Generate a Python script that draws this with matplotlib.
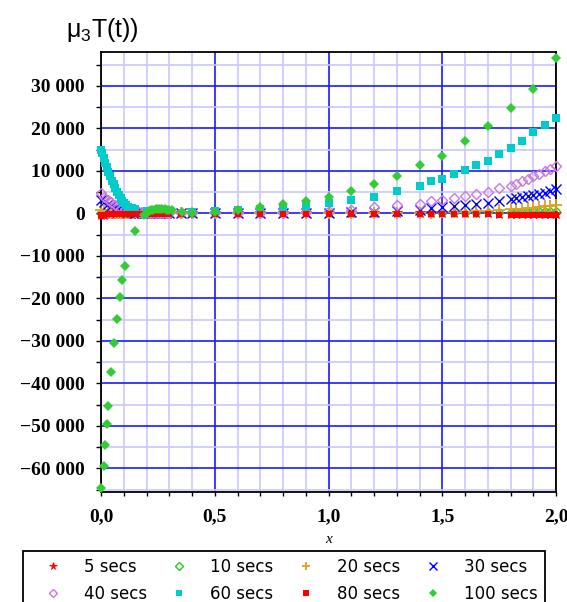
import matplotlib
matplotlib.use("Agg")
import matplotlib.pyplot as plt
from matplotlib.ticker import MultipleLocator, FuncFormatter

# ---------------- data ----------------
labels = ["5 secs", "10 secs", "20 secs", "30 secs", "40 secs", "60 secs", "80 secs", "100 secs"]

x_common = [0, 0.015, 0.03, 0.045, 0.06, 0.075, 0.09, 0.105, 0.12, 0.135, 0.15, 0.165, 0.18, 0.195,
            0.21, 0.225, 0.24, 0.255, 0.27, 0.285, 0.3,
            0.35, 0.4, 0.5, 0.6, 0.7, 0.8, 0.9, 1.0, 1.1, 1.2, 1.3,
            1.4, 1.45, 1.5, 1.55, 1.6, 1.65, 1.7, 1.75, 1.8, 1.825, 1.85, 1.875, 1.9, 1.925, 1.95, 1.975, 2.0]

y_5 = [-400, -300, -250, -200, -150, -120, -100, -80, -60, -50, -40, -30, -30, -20, -20, -20, -10, -10, -10, -10, -10,
       -10, -10, -10, -10, -10, -10, -10, -10, -10, -10, -10,
       -10, -10, -20, -20, -20, -30, -30, -40, -40, -50, -50, -60, -60, -70, -80, -90, -100]
y_10 = [300, 250, 200, 160, 130, 100, 80, 60, 50, 40, 30, 20, 20, 10, 10, 10, 0, 0, 0, 0, 0,
        0, 0, 0, 0, 0, 0, 0, 10, 20, 30, 40,
        60, 80, 100, 120, 150, 180, 220, 260, 300, 330, 360, 400, 440, 480, 530, 580, 640]
y_20 = [800, 600, 450, 330, 240, 170, 120, 90, 60, 40, 30, 20, 10, 10, 0, 0, 0, 0, 0, 0, 0,
        0, 0, 0, 0, 0, 0, 0, 20, 40, 60, 80,
        100, 150, 220, 300, 400, 500, 620, 760, 920, 1010, 1110, 1220, 1340, 1480, 1640, 1820, 2050]
y_30 = [3200, 2600, 2100, 1700, 1300, 1000, 750, 550, 380, 250, 160, 100, 60, 30, 20, 10, 0, 0, 0, 0, 0,
        0, 0, 10, 20, 40, 70, 110, 170, 260, 400, 600,
        900, 1150, 1400, 1650, 1950, 2250, 2550, 2900, 3300, 3500, 3750, 4000, 4300, 4600, 4900, 5300, 5700]
y_40 = [4800, 3900, 3200, 2600, 2050, 1600, 1250, 950, 700, 500, 350, 250, 160, 100, 60, 30, 20, 10, 0, 0, 0,
        0, 0, 20, 60, 120, 200, 330, 550, 900, 1500, 2000,
        2300, 2800, 3100, 3700, 4200, 4600, 5100, 5900, 6500, 7000, 7500, 8100, 8700, 9300, 9900, 10500, 11100]
y_80 = [-300, -280, -260, -240, -230, -220, -210, -200, -200, -200, -200, -200, -190, -190, -180, -180, -180,
        -170, -170, -170, -170,
        -170, -170, -180, -190, -200, -200, -210, -210, -220, -220, -230,
        -230, -240, -240, -250, -250, -260, -260, -270, -270, -280, -280, -280, -290, -290, -300, -300, -310]

x_60 = [0, 0.006, 0.012, 0.018, 0.025, 0.032, 0.04, 0.048, 0.055, 0.063, 0.07, 0.078, 0.086, 0.094, 0.102,
        0.11, 0.12, 0.135, 0.15, 0.2, 0.25, 0.3, 0.4, 0.5, 0.6, 0.7, 0.8, 0.9, 1.0, 1.1, 1.2, 1.3,
        1.4, 1.45, 1.5, 1.55, 1.6, 1.65, 1.7, 1.75, 1.8, 1.85, 1.9, 1.95, 2.0]
y_60 = [15000, 14100, 13000, 11900, 10800, 9800, 8700, 7700, 6800, 5900, 5100, 4300, 3600, 3000, 2400,
        1900, 1500, 1200, 1000, 600, 400, 300, 300, 500, 700, 1000, 1400, 1800, 2500, 3100, 3900, 5200,
        6500, 7500, 8100, 9300, 10200, 11300, 12300, 14000, 15400, 17000, 19100, 20700, 22500]

x_100 = [0, 0.012, 0.019, 0.025, 0.029, 0.044, 0.056, 0.069, 0.082, 0.094, 0.107, 0.151,
         0.19, 0.2, 0.21, 0.22, 0.23, 0.24, 0.25, 0.26, 0.27, 0.28, 0.29, 0.3, 0.31, 0.355,
         0.4, 0.5, 0.6, 0.7, 0.8, 0.9, 1.0, 1.1, 1.2, 1.3, 1.4, 1.5, 1.6, 1.7, 1.8, 1.9, 2.0]
y_100 = [-64700, -59400, -54400, -49600, -45300, -37300, -30600, -24900, -19800, -15700, -12300, -4200,
         -300, 200, 500, 700, 900, 1000, 1100, 1100, 1100, 1000, 900, 800, 700, 300,
         200, 300, 700, 1400, 2100, 3000, 3900, 5200, 6900, 8900, 11300, 13600, 17000, 20500, 24900, 29300, 36500]

x_ticks = [0.0, 0.5, 1.0, 1.5, 2.0]
y_ticks = [-60000, -50000, -40000, -30000, -20000, -10000, 0, 10000, 20000, 30000]

# ---------------- figure ----------------
W, H = 567, 602
fig = plt.figure(figsize=(W / 100, H / 100), dpi=100)
ax = fig.add_axes([101 / W, 1 - 491.7 / H, (556 - 101) / W, (491.7 - 52.3) / H])

styles = [
    dict(marker="*", color="#ff0000", ms=7, mfc="#ff0000", mew=0.6),
    dict(marker="D", color="#22cc22", ms=4.5, mfc="none", mew=1.0),
    dict(marker="+", color="#e0a020", ms=8, mew=1.3),
    dict(marker="x", color="#0000ff", ms=6.5, mew=1.0),
    dict(marker="D", color="#cc77dd", ms=5.5, mfc="none", mew=1.0),
    dict(marker="s", color="#00cccc", ms=6, mfc="#00cccc", mew=0),
    dict(marker="s", color="#ff0000", ms=5, mfc="#ff0000", mew=0),
    dict(marker="D", color="#33cc33", ms=5.5, mfc="#33cc33", mew=0),
]
series = [(x_common, y_5), (x_common, y_10), (x_common, y_20), (x_common, y_30),
          (x_common, y_40), (x_60, y_60), (x_common, y_80), (x_100, y_100)]

handles = []
for (xs, ys), st, lab in zip(series, styles, labels):
    h, = ax.plot(xs, ys, linestyle="none", clip_on=False, label=lab, zorder=3, **st)
    handles.append(h)

ax.set_xlim(0, 2)
ax.set_ylim(-65500, 37900)

ax.set_xticks(x_ticks)
ax.xaxis.set_minor_locator(MultipleLocator(0.1))
ax.set_yticks(y_ticks)
ax.yaxis.set_minor_locator(MultipleLocator(5000))

def yfmt(v, pos):
    s = f"{abs(int(round(v))):,}".replace(",", " ")
    return ("\u2212" if v < 0 else "") + s

def xfmt(v, pos):
    return f"{v:.1f}".replace(".", ",")

ax.yaxis.set_major_formatter(FuncFormatter(yfmt))
ax.xaxis.set_major_formatter(FuncFormatter(xfmt))

ax.grid(which="major", color="#1a1aff", linewidth=1.2, zorder=1)
ax.grid(which="minor", color="#c8c8ff", linewidth=1.2, zorder=0)
ax.set_axisbelow(True)

for sp in ax.spines.values():
    sp.set_color("black")
    sp.set_linewidth(1.3)

ax.tick_params(axis="both", which="both", direction="out", width=1, color="black")
ax.tick_params(axis="x", which="both", length=2.9, pad=8.8)
ax.tick_params(axis="y", which="both", length=3.6, pad=7.9)
for lab in ax.get_xticklabels() + ax.get_yticklabels():
    lab.set_fontfamily("Liberation Serif")
    lab.set_fontweight("bold")
    lab.set_fontsize(14)

ax.set_xlabel("x", fontfamily="Liberation Serif", fontstyle="italic", fontsize=11, labelpad=6)

# title
plt.rcParams["mathtext.default"] = "regular"
fig.text(66 / W, 1 - 37 / H, r"$\mu_3$T(t))", fontsize=18, family="Liberation Sans",
         ha="left", va="baseline")

# legend (row-major order as in the reference)
order = [0, 4, 1, 5, 2, 6, 3, 7]
leg = fig.legend([handles[i] for i in order], [labels[i] for i in order], ncol=4,
                 loc="upper left", bbox_to_anchor=(22.7 / W, 1 - 550.7 / H),
                 frameon=True, fancybox=False, edgecolor="black", framealpha=1,
                 prop=dict(family="DejaVu Sans", size=12), handlelength=2.7,
                 handletextpad=0.5, columnspacing=0.62, labelspacing=0.5,
                 borderpad=0.45, borderaxespad=0, markerscale=0.8)
leg.get_frame().set_linewidth(1.3)

fig.savefig("out.png", dpi=100)
